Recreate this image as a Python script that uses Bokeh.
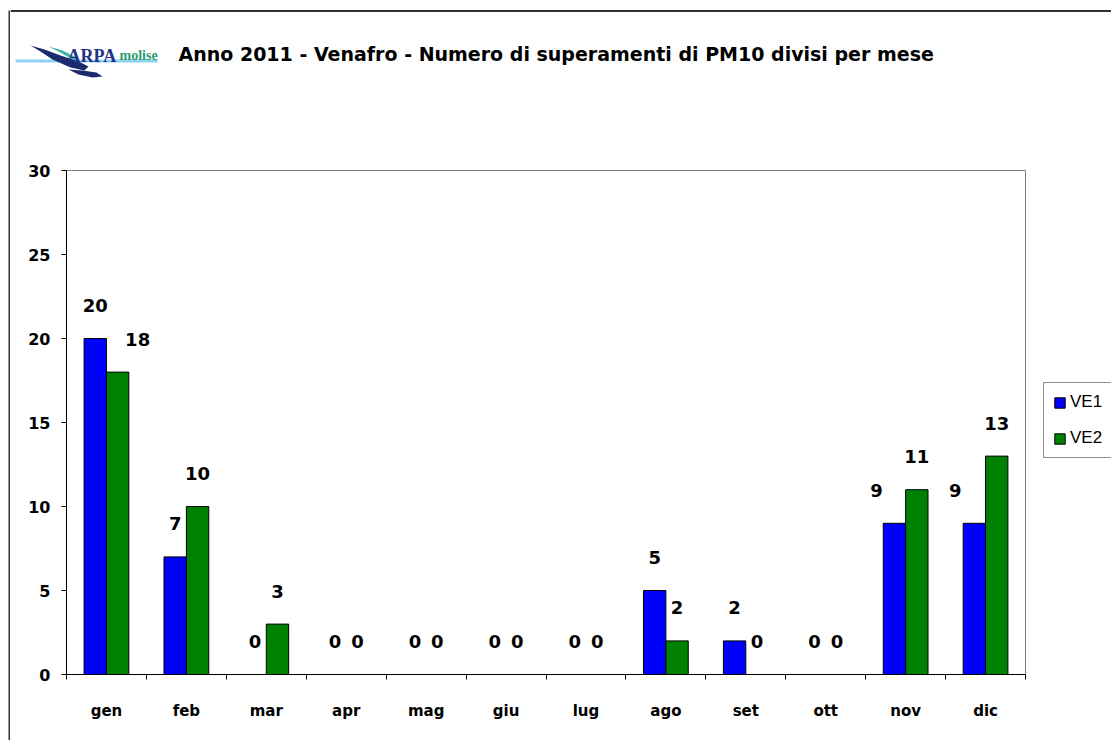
import numpy as np
from bokeh.plotting import figure
from bokeh.models import Range1d, FixedTicker, Legend, LegendItem, ColumnDataSource, Spacer
from bokeh.layouts import column, row
from bokeh.embed import file_html
from bokeh.resources import INLINE
from bokeh.core.properties import value

# ---------------- data ----------------
months = ["gen", "feb", "mar", "apr", "mag", "giu", "lug", "ago", "set", "ott", "nov", "dic"]
ve1 = [20, 7, 0, 0, 0, 0, 0, 5, 2, 0, 9, 9]
ve2 = [18, 10, 3, 0, 0, 0, 0, 2, 0, 0, 11, 13]
series_names = ["VE1", "VE2"]
y_ticks = [0, 5, 10, 15, 20, 25, 30]
title_text = "Anno 2011 - Venafro - Numero di superamenti di PM10 divisi per mese"
# manual nudges of some data labels (pixels), as in the original
ve1_label_dx = [0, 0, 0, 0, 0, 0, 0, 0, 0, 0, -18, -19]
ve2_label_dx = [20, 0, 0, 0, 0, 0, 0, 0, 0, 0, 0, 0]

FONT = "DejaVu Sans"
BLUE = "#0000FF"
GREEN = "#008000"

COL_W = 1101
HEADER_H = 128
MAIN_H = 612
MAIN_W = 1016
LEG_W = COL_W - MAIN_W

# ---------------- header (logo + title) ----------------
hdr = figure(width=COL_W, height=HEADER_H, x_range=Range1d(0, COL_W), y_range=Range1d(0, HEADER_H),
             toolbar_location=None, output_backend="svg", min_border=0,
             x_axis_type=None, y_axis_type=None, outline_line_color=None,
             background_fill_color="white", border_fill_color="white")
hdr.frame_align = False
hdr.xgrid.visible = False
hdr.ygrid.visible = False

def wx(x):
    return x - 10

def wy(y):
    return HEADER_H - y

# top border of the chart area
hdr.line([0, COL_W], [wy(10.5), wy(10.5)], line_color="#333333", line_width=2)

# logo (decorative)
hdr.line([wx(15), wx(157)], [wy(60.5), wy(60.5)], line_color="#8fd3ee", line_width=3)
hdr.patch([wx(30), wx(44), wx(60), wx(76), wx(88), wx(84), wx(70), wx(52), wx(40)],
          [wy(45), wy(49), wy(55), wy(60), wy(66), wy(70), wy(67), wy(59), wy(51)],
          fill_color="#1c2a6e", line_color=None)
hdr.patch([wx(48), wx(62), wx(74), wx(80), wx(72), wx(60)],
          [wy(46), wy(50), wy(56), wy(62), wy(59), wy(52)],
          fill_color="#38b59e", line_color=None)
hdr.patch([wx(68), wx(82), wx(96), wx(102), wx(92), wx(78)],
          [wy(69), wy(70), wy(72), wy(76), wy(77), wy(74)],
          fill_color="#1c2a6e", line_color=None)
hdr.text(x=[wx(67)], y=[wy(55)], text=["ARPA"], text_font=value("Liberation Serif"),
         text_font_style="bold", text_font_size="18px", text_color="#23308a",
         text_align="left", text_baseline="alphabetic")
hdr.text(x=[wx(119)], y=[wy(55)], text=["molise"], text_font=value("Liberation Serif"),
         text_font_style="bold", text_font_size="14px", text_color="#2e9c72",
         text_align="left", text_baseline="alphabetic")
# title
hdr.text(x=[wx(178)], y=[wy(53)], text=[title_text], text_font=value(FONT),
         text_font_style="bold", text_font_size="19px", text_color="black",
         text_align="left", text_baseline="middle")

# ---------------- main chart ----------------
idx = np.arange(len(months))
x1 = idx + 0.5 - 0.14
x2 = idx + 0.5 + 0.14

src1 = ColumnDataSource(dict(x=x1, v=ve1, lbl=[str(v) for v in ve1], dx=ve1_label_dx))
src2 = ColumnDataSource(dict(x=x2, v=ve2, lbl=[str(v) for v in ve2], dx=ve2_label_dx))

p = figure(width=MAIN_W, height=MAIN_H, x_range=Range1d(0, len(months)), y_range=Range1d(0, 30),
           toolbar_location=None, output_backend="svg",
           min_border_left=56, min_border_right=1, min_border_top=42, min_border_bottom=66,
           background_fill_color="white", border_fill_color="white",
           outline_line_color="#808080", outline_line_width=1)
p.frame_align = False
p.xgrid.visible = False
p.ygrid.visible = False

bar_style = dict(width=0.28, line_color="black", line_width=1)
p.vbar(x="x", top="v", source=src1, fill_color=BLUE, **bar_style)
p.vbar(x="x", top="v", source=src2, fill_color=GREEN, **bar_style)

for s in (src1, src2):
    p.text(x="x", y="v", text="lbl", x_offset="dx", y_offset=-33, source=s,
           text_align="center", text_baseline="middle", text_font=value(FONT),
           text_font_style="bold", text_font_size="18px", text_color="black")

# y axis
p.yaxis.ticker = FixedTicker(ticks=y_ticks)
p.yaxis.major_tick_in = 0
p.yaxis.major_tick_out = 5
p.yaxis.minor_tick_line_color = None
p.yaxis.axis_line_color = "black"
p.yaxis.major_tick_line_color = "black"
p.yaxis.major_label_standoff = 11
p.yaxis.major_label_text_font = FONT
p.yaxis.major_label_text_font_style = "bold"
p.yaxis.major_label_text_font_size = "16px"
p.yaxis.major_label_text_color = "black"

# x axis: labels at centres, ticks at category boundaries
p.xaxis.ticker = FixedTicker(ticks=list(idx + 0.5), minor_ticks=list(range(len(months) + 1)))
p.xaxis.major_label_overrides = {float(i + 0.5): m for i, m in enumerate(months)}
p.xaxis.major_tick_in = 0
p.xaxis.major_tick_out = 0
p.xaxis.minor_tick_in = 0
p.xaxis.minor_tick_out = 5
p.xaxis.minor_tick_line_color = "black"
p.xaxis.axis_line_color = "black"
p.xaxis.major_label_standoff = 22
p.xaxis.major_label_text_font = FONT
p.xaxis.major_label_text_font_style = "bold"
p.xaxis.major_label_text_font_size = "15px"
p.xaxis.major_label_text_color = "black"

# ---------------- legend panel (to the right of the plot area) ----------------
# the legend's renderers share the series' sources; their bars lie outside this panel's view
leg = figure(width=LEG_W, height=MAIN_H, x_range=Range1d(1000, 1001), y_range=Range1d(1000, 1001),
             toolbar_location=None, output_backend="svg", min_border=0,
             x_axis_type=None, y_axis_type=None, outline_line_color=None,
             background_fill_color="white", border_fill_color="white")
leg.frame_align = False
leg.xgrid.visible = False
leg.ygrid.visible = False
lr1 = leg.vbar(x="x", top="v", source=src1, fill_color=BLUE, **bar_style)
lr2 = leg.vbar(x="x", top="v", source=src2, fill_color=GREEN, **bar_style)
legend = Legend(items=[LegendItem(label=series_names[0], renderers=[lr1]),
                       LegendItem(label=series_names[1], renderers=[lr2])],
                location=(17, 282), margin=0, padding=9, spacing=16,
                glyph_width=13, glyph_height=13, label_standoff=4,
                label_text_font="Liberation Sans", label_text_font_size="17px",
                label_text_color="black",
                border_line_color="#222222", border_line_width=1, background_fill_alpha=1)
leg.add_layout(legend, "center")

# left border strip
strip = figure(width=2, height=HEADER_H + MAIN_H - 10, toolbar_location=None, output_backend="svg",
               min_border=0, x_axis_type=None, y_axis_type=None, outline_line_color=None,
               background_fill_color="#333333", border_fill_color="#333333")
strip.frame_align = False
strip.xgrid.visible = False
strip.ygrid.visible = False

layout = row(Spacer(width=8, height=HEADER_H + MAIN_H),
             column(Spacer(width=2, height=10), strip, spacing=0),
             column(hdr, row(p, leg, spacing=0), spacing=0), spacing=0)

open("out.html", "w").write(file_html(layout, INLINE))
